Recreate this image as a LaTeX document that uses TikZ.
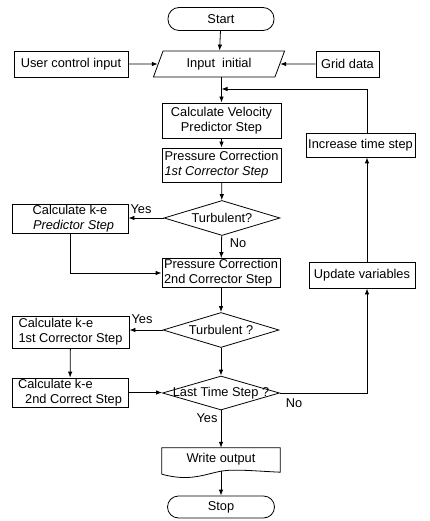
\documentclass[tikz,border=0pt]{standalone}
\usepackage{fontspec}
\setmainfont{Liberation Sans}
\usetikzlibrary{shapes.geometric,arrows.meta}
\begin{document}
\begin{tikzpicture}[x=1pt,y=-1pt,
  every node/.style={font=\fontsize{12.8}{15}\selectfont},
  lw/.style={line width=0.8pt},
  box/.style={draw, lw, inner sep=1pt, align=center},
  boxl/.style={box, align=left},
  term/.style={draw, lw, rounded corners=11pt, minimum width=106pt, minimum height=23pt, inner sep=0pt},
  para/.style={draw, lw, trapezium, trapezium left angle=65, trapezium right angle=115, trapezium stretches=true, minimum width=132pt, minimum height=26pt, inner sep=0pt},
  dia/.style={draw, lw, diamond, inner sep=0pt, minimum width=116pt, minimum height=35pt},
  arr/.style={lw, -{Latex[length=6pt,width=4.5pt]}},
  lab/.style={inner sep=0pt}
]
\useasboundingbox (0,0) rectangle (429,521);

\node[term] (start) at (221,19) {Start};
\node[para] (input) at (219,64) {Input\ \ initial};
\node[box, minimum width=114pt, minimum height=26pt] (user) at (71,64) {User control input};
\node[box, minimum width=63pt, minimum height=26pt] (grid) at (347.5,64) {Grid data};

\node[box, minimum width=119pt, minimum height=35pt] (vel) at (221.5,120.5) {Calculate Velocity\\Predictor Step};
\node[boxl, minimum width=119pt, minimum height=34pt] (p1) at (221.5,165) {Pressure Correction\\\textit{1st Corrector Step}};
\node[dia] (turb1) at (222,218) {\makebox[0pt]{Turbulent?}};
\node[box, minimum width=116pt, minimum height=29pt] (kep) at (70,218.5) {Calculate k-e\\\ \ \textit{Predictor Step}};
\node[boxl, minimum width=118pt, minimum height=28pt] (p2) at (221,273) {Pressure Correction\\2nd Corrector Step};
\node[dia] (turb2) at (221,330) {\makebox[0pt]{Turbulent ?}};
\node[boxl, minimum width=117pt, minimum height=32pt] (ke1) at (70.5,332) {Calculate k-e\\1st Corrector Step};
\node[boxl, minimum width=116pt, minimum height=29pt] (ke2) at (70,392.5) {Calculate k-e\\\ \ 2nd Correct Step};
\node[dia, minimum width=117pt, minimum height=34pt] (last) at (221,393) {\makebox[0pt]{Last Time Step ?}};
\node[minimum width=118pt, minimum height=22pt, inner sep=0pt] (write) at (221,459) {Write output};
\node[term, minimum width=107pt, minimum height=22pt] (stop) at (221,507) {Stop};

\node[box, minimum width=109pt, minimum height=24pt] (inc) at (360.5,145) {Increase time step};
\node[box, minimum width=106pt, minimum height=26pt] (upd) at (362,275) {Update variables};

% document shape
\draw[lw] ([yshift=-4pt]write.south west) -- (write.north west) -- (write.north east)
  -- ([yshift=-2pt]write.south east)
  .. controls (255,471) and (235,469) .. (222,471)
  .. controls (205,474) and (190,482) .. ([yshift=-4pt]write.south west);

\coordinate (r1) at (367,89);

% connectors
\draw[arr] (start) -- (input);
\draw[arr] (user) -- (input);
\draw[arr] (grid) -- (input);
\draw[arr] (input.south -| vel.north) -- (vel);
\draw[arr] (vel) -- (p1);
\draw[arr] (p1) -- (turb1);
\draw[arr] (turb1.west) -- (turb1.west -| kep.east);
\draw[arr] (turb1) -- (p2);
\draw[arr] (kep.south) |- (p2.west);
\draw[arr] (p2) -- (turb2);
\draw[arr] (turb2.west) -- (turb2.west -| ke1.east);
\draw[arr] (turb2) -- (last);
\draw[arr] (ke1) -- (ke2);
\draw[arr] (ke2.east) -- (ke2.east -| last.west);
\draw[arr] (last) -- (write);
\draw[arr] ([yshift=-1pt]write.south) -- (stop);
\draw[arr] (last.east) -- (last.east -| r1) -- (upd.south -| r1);
\draw[arr] (upd.north -| r1) -- (inc.south -| r1);
\draw[arr] (inc.north -| r1) -- (r1) -- (r1 -| vel.north);

% labels
\node[lab] at (141,209) {Yes};
\node[lab] at (238,243) {No};
\node[lab] at (142,319) {Yes};
\node[lab] at (294,403) {No};
\node[lab] at (207,418) {Yes};
\end{tikzpicture}
\end{document}
